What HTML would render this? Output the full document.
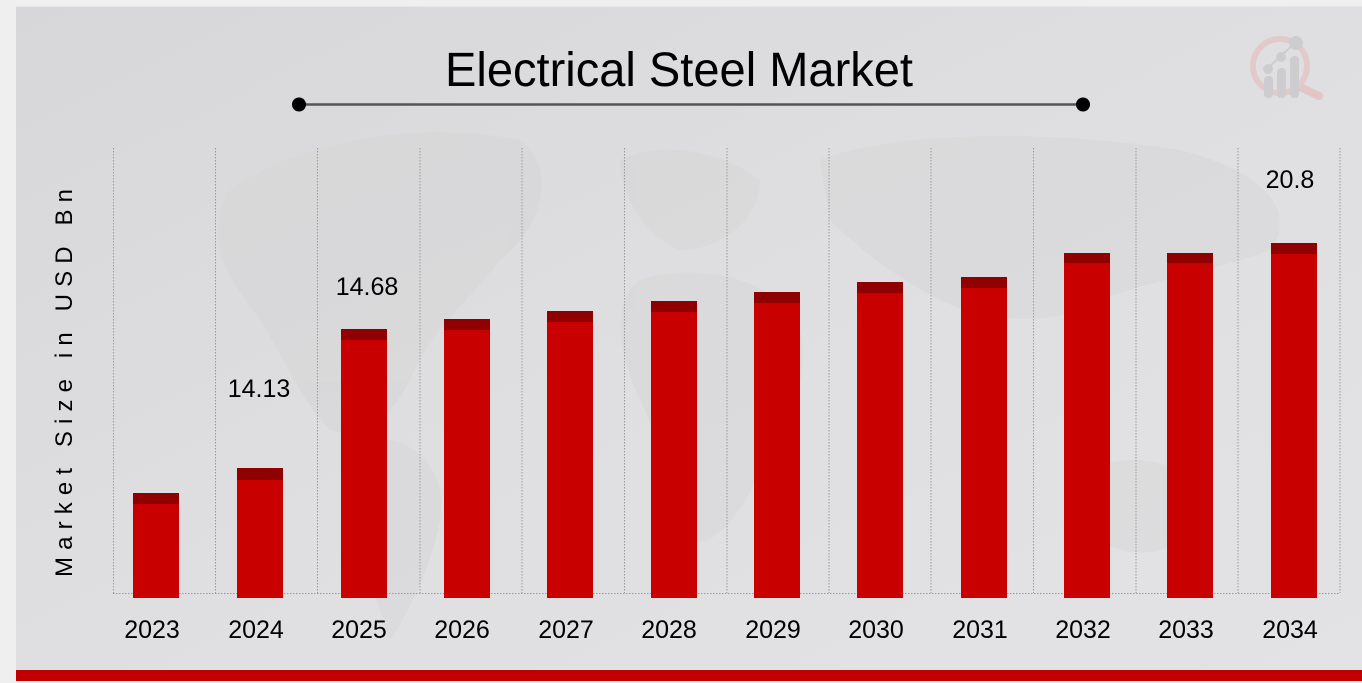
<!DOCTYPE html>
<html>
<head>
<meta charset="utf-8">
<style>
html,body{margin:0;padding:0;background:#efefef;}
svg{display:block;}
text{font-family:"Liberation Sans",sans-serif;fill:#000;}
</style>
</head>
<body>
<svg width="1362" height="683" viewBox="0 0 1362 683" xmlns="http://www.w3.org/2000/svg">
<defs>
<linearGradient id="bg" x1="0" y1="0" x2="1" y2="1">
<stop offset="0" stop-color="#d7d7d9"/>
<stop offset="0.5" stop-color="#dfdfe1"/>
<stop offset="1" stop-color="#e3e3e5"/>
</linearGradient>
</defs>
<rect x="0" y="0" width="1362" height="683" fill="#efefef"/>
<rect x="16" y="6" width="1346" height="664" fill="url(#bg)"/>
<rect x="16" y="6" width="1346" height="1" fill="#e6e6e6"/>
<!-- faint world map blobs -->
<g fill="#cfcfd1" opacity="0.3">
<path d="M230 190 C300 140 420 120 520 140 C560 170 540 230 500 260 C470 300 430 330 410 380 C390 420 360 440 330 430 C300 400 280 350 260 320 C230 280 200 240 230 190 Z"/>
<path d="M360 440 C400 430 450 460 440 520 C430 570 410 610 390 640 C375 600 360 540 350 490 Z"/>
<path d="M820 160 C900 130 1050 130 1180 150 C1260 170 1300 210 1270 250 C1220 270 1150 280 1100 300 C1050 330 980 320 940 300 C900 280 860 250 830 220 Z"/>
<path d="M640 280 C700 260 780 280 800 330 C810 380 790 420 760 470 C740 520 710 550 690 540 C670 500 660 440 640 400 C620 360 610 300 640 280 Z"/>
<path d="M1090 470 C1130 450 1190 460 1200 500 C1200 540 1160 560 1120 550 C1090 540 1080 500 1090 470 Z"/>
<path d="M620 160 C660 140 720 150 760 180 C760 220 720 250 680 250 C650 240 620 200 620 160 Z"/>
</g>
<!-- logo -->
<g opacity="0.8">
<line x1="1298" y1="86" x2="1319" y2="96" stroke="#e3c0c0" stroke-width="8" stroke-linecap="round"/>
<circle cx="1280" cy="66" r="27" fill="none" stroke="#e3c6c6" stroke-width="6"/>
<rect x="1264" y="76" width="9" height="22" rx="4" fill="#c9c9cb"/>
<rect x="1277" y="68" width="9" height="30" rx="4" fill="#c9c9cb"/>
<rect x="1290" y="56" width="9" height="42" rx="4" fill="#c9c9cb"/>
<line x1="1268" y1="68" x2="1296" y2="42" stroke="#c9c9cb" stroke-width="2"/>
<circle cx="1268" cy="69" r="5" fill="#c9c9cb"/>
<circle cx="1281" cy="57" r="5" fill="#c9c9cb"/>
<circle cx="1296" cy="43" r="7" fill="#c9c9cb"/>
</g>
<!-- title -->
<text x="679" y="86" font-size="48" text-anchor="middle" textLength="468" lengthAdjust="spacingAndGlyphs">Electrical Steel Market</text>
<line x1="299" y1="104.5" x2="1083" y2="104.5" stroke="#555" stroke-width="2.5"/>
<circle cx="299" cy="104.5" r="7" fill="#000"/>
<circle cx="1083" cy="104.5" r="7" fill="#000"/>
<!-- grid -->
<g stroke="#9a9a9a" stroke-width="1" stroke-dasharray="1.5,1.5">
<line x1="113.5" y1="148" x2="113.5" y2="593"/>
<line x1="215.5" y1="148" x2="215.5" y2="593"/>
<line x1="317.5" y1="148" x2="317.5" y2="593"/>
<line x1="420" y1="148" x2="420" y2="593"/>
<line x1="522" y1="148" x2="522" y2="593"/>
<line x1="624.5" y1="148" x2="624.5" y2="593"/>
<line x1="727" y1="148" x2="727" y2="593"/>
<line x1="829" y1="148" x2="829" y2="593"/>
<line x1="931" y1="148" x2="931" y2="593"/>
<line x1="1033.5" y1="148" x2="1033.5" y2="593"/>
<line x1="1136" y1="148" x2="1136" y2="593"/>
<line x1="1238" y1="148" x2="1238" y2="593"/>
<line x1="1340" y1="148" x2="1340" y2="593"/>
<line x1="113" y1="593.5" x2="1340" y2="593.5"/>
</g>
<!-- bars -->
<g>
<rect x="133" y="493" width="46" height="105" fill="#c80000"/><rect x="133" y="493" width="46" height="11" fill="#900000"/>
<rect x="237" y="468" width="46" height="130" fill="#c80000"/><rect x="237" y="468" width="46" height="12" fill="#900000"/>
<rect x="341" y="329" width="46" height="269" fill="#c80000"/><rect x="341" y="329" width="46" height="11" fill="#900000"/>
<rect x="444" y="319" width="46" height="279" fill="#c80000"/><rect x="444" y="319" width="46" height="11" fill="#900000"/>
<rect x="547" y="311" width="46" height="287" fill="#c80000"/><rect x="547" y="311" width="46" height="11" fill="#900000"/>
<rect x="651" y="301" width="46" height="297" fill="#c80000"/><rect x="651" y="301" width="46" height="11" fill="#900000"/>
<rect x="754" y="292" width="46" height="306" fill="#c80000"/><rect x="754" y="292" width="46" height="11" fill="#900000"/>
<rect x="857" y="282" width="46" height="316" fill="#c80000"/><rect x="857" y="282" width="46" height="11" fill="#900000"/>
<rect x="961" y="277" width="46" height="321" fill="#c80000"/><rect x="961" y="277" width="46" height="11" fill="#900000"/>
<rect x="1064" y="253" width="46" height="345" fill="#c80000"/><rect x="1064" y="253" width="46" height="10" fill="#900000"/>
<rect x="1167" y="253" width="46" height="345" fill="#c80000"/><rect x="1167" y="253" width="46" height="10" fill="#900000"/>
<rect x="1271" y="243" width="46" height="355" fill="#c80000"/><rect x="1271" y="243" width="46" height="11" fill="#900000"/>
</g>
<!-- value labels -->
<text x="259" y="397" font-size="25" text-anchor="middle">14.13</text>
<text x="367" y="295" font-size="25" text-anchor="middle">14.68</text>
<text x="1290" y="188" font-size="25" text-anchor="middle">20.8</text>
<!-- year labels -->
<g font-size="25" text-anchor="middle">
<text x="152" y="638">2023</text>
<text x="256" y="638">2024</text>
<text x="359" y="638">2025</text>
<text x="462" y="638">2026</text>
<text x="566" y="638">2027</text>
<text x="669" y="638">2028</text>
<text x="773" y="638">2029</text>
<text x="876" y="638">2030</text>
<text x="980" y="638">2031</text>
<text x="1083" y="638">2032</text>
<text x="1186" y="638">2033</text>
<text x="1290" y="638">2034</text>
</g>
<!-- y axis label -->
<text transform="translate(72,383) rotate(-90)" font-size="24" text-anchor="middle" textLength="388" lengthAdjust="spacing">Market Size in USD Bn</text>
<!-- bottom red bar -->
<rect x="16" y="670" width="1346" height="11" fill="#c00000"/>
</svg>
</body>
</html>
